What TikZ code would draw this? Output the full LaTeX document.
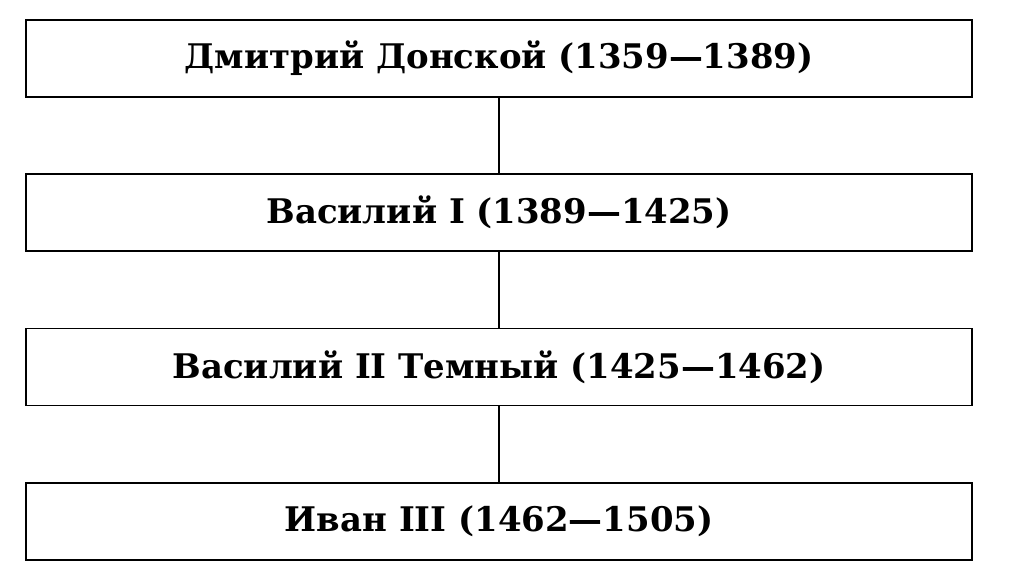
\documentclass[tikz,border=0pt]{standalone}
\usepackage{fontspec}
\setmainfont{DejaVu Serif}
\usetikzlibrary{positioning}

\begin{document}
\begin{tikzpicture}[
		ruler/.style={draw, line width=1pt, minimum width=18.92cm, minimum height=1.54cm, inner sep=0pt, font=\bfseries\fontsize{19.3}{23}\selectfont},
		link/.style={line width=1pt}
	]
		%canvas
		\useasboundingbox (0,0) rectangle (20.28,-11.5);
		
		%rulers, top to bottom
		\node [ruler] (dmitry) at (9.98,-1.17) {Дмитрий Донской (1359—1389)};
		\node [ruler, below=1.51cm of dmitry] (vasily) {Василий I (1389—1425)};
		\node [ruler, below=1.51cm of vasily] (vasilytwo) {Василий II Темный (1425—1462)};
		\node [ruler, below=1.51cm of vasilytwo] (ivan) {Иван III (1462—1505)};
		
		%succession lines
		\draw [link] (dmitry) -- (vasily);
		\draw [link] (vasily) -- (vasilytwo);
		\draw [link] (vasilytwo) -- (ivan);

	\end{tikzpicture}
\end{document}
